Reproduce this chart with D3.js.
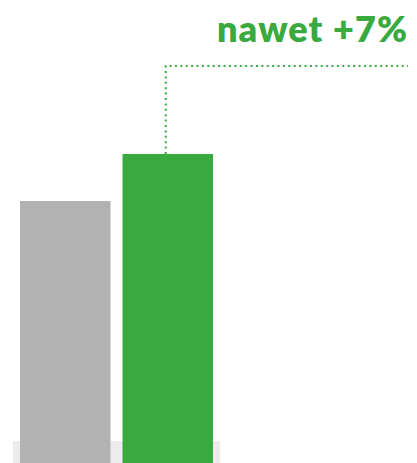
<!DOCTYPE html>
<html>
<head>
<meta charset="utf-8">
<script src="https://cdn.jsdelivr.net/npm/d3@7"></script>
<style>
  html, body { margin: 0; padding: 0; background: #fff; }
  svg { display: block; }
</style>
</head>
<body>
<svg id="chart"></svg>
<script>
// data
var categories = ["przed", "po"];
var values = [100, 107];
var colors = ["#b2b2b2", "#3aaa40"];
var label = "nawet +7%";

var width = 417, height = 463;

var svg = d3.select("#chart")
  .attr("width", width)
  .attr("height", height);

var x = d3.scaleBand()
  .domain(categories)
  .range([20, 213])
  .paddingInner(0.117);

var y = d3.scaleLinear()
  .domain([61, 107])
  .range([height, 154]);

// light base strip
svg.append("rect")
  .attr("x", 13)
  .attr("y", 441)
  .attr("width", 207)
  .attr("height", height - 441)
  .attr("fill", "#ececec");

svg.selectAll(".bar")
  .data(values)
  .enter()
  .append("rect")
  .attr("class", "bar")
  .attr("x", function(d, i) { return x(categories[i]); })
  .attr("y", function(d) { return y(d); })
  .attr("width", x.bandwidth())
  .attr("height", function(d) { return height - y(d); })
  .attr("fill", function(d, i) { return colors[i]; });

// dotted leader line from the green bar to the label
var cx = x(categories[1]) + x.bandwidth() / 2 - 2;
var ly = 66;
svg.append("path")
  .attr("d", "M" + cx + "," + y(values[1]) + "V" + ly + "H" + 408)
  .attr("fill", "none")
  .attr("stroke", colors[1])
  .attr("stroke-width", 2)
  .attr("stroke-dasharray", "2,3.4");

svg.append("text")
  .attr("x", 407)
  .attr("y", 42)
  .attr("text-anchor", "end")
  .attr("fill", colors[1])
  .attr("textLength", 190)
  .attr("lengthAdjust", "spacing")
  .style("font-family", "Lato, sans-serif")
  .style("font-weight", 800)
  .style("font-size", "36px")
  .text(label);
</script>
</body>
</html>
